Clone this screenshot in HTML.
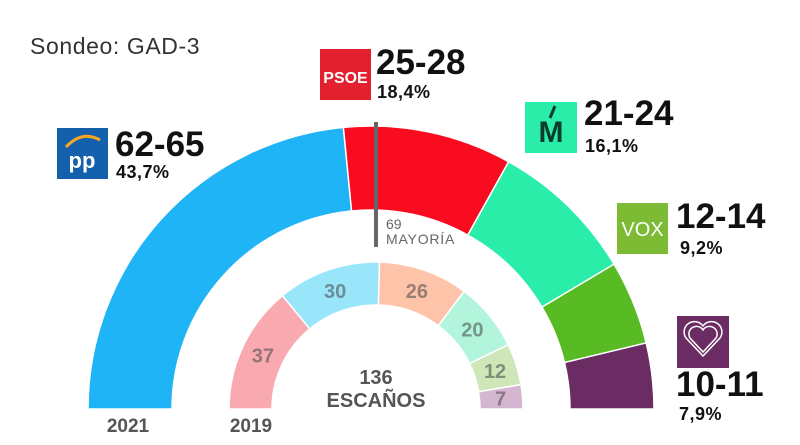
<!DOCTYPE html>
<html><head><meta charset="utf-8"><style>
html,body{margin:0;padding:0;background:#fff;width:800px;height:445px;overflow:hidden}
svg{display:block;font-family:"Liberation Sans",sans-serif}
</style></head><body>
<svg id="s" width="800" height="445" viewBox="0 0 800 445">
<text x="30" y="54" font-size="23" fill="#333" letter-spacing="0.6">Sondeo: GAD-3</text>
<g id="arcs"></g>
<line x1="376" y1="122" x2="376" y2="247" stroke="#666" stroke-width="4"/>
<text x="386" y="229" font-size="14" fill="#666">69</text>
<text x="386" y="244" font-size="14" fill="#666" letter-spacing="0.8">MAYORÍA</text>
<g font-weight="bold" fill="#555" text-anchor="middle">
<text x="128" y="432" font-size="19">2021</text>
<text x="251" y="432" font-size="19">2019</text>
<text x="376" y="384" font-size="20">136</text>
<text x="376" y="407" font-size="20">ESCAÑOS</text>
</g>
<g font-weight="bold" fill="rgba(70,70,70,0.55)" text-anchor="middle" font-size="20" id="ilab"></g>
<!-- logos -->
<rect x="57" y="128" width="51" height="51" fill="#1560ad"/>
<path d="M66 147 Q82 130 100 140" stroke="#f6a623" stroke-width="3" fill="none"/>
<text x="82" y="168" font-size="22" font-weight="bold" fill="#fff" text-anchor="middle">pp</text>
<rect x="320" y="49" width="51" height="51" fill="#e2202e"/>
<text x="345.5" y="83" font-size="16" font-weight="bold" fill="#fff" text-anchor="middle">PSOE</text>
<rect x="525" y="102" width="52" height="51" fill="#2bedaa"/>
<text x="551" y="142" font-size="30" font-weight="bold" fill="#0b3b2a" text-anchor="middle">M</text>
<path d="M555 106 L550 118" stroke="#0b3b2a" stroke-width="3"/>
<rect x="617" y="203" width="51" height="51" fill="#7cbb33"/>
<text x="642.5" y="236" font-size="20" fill="#fff" text-anchor="middle">VOX</text>
<rect x="677" y="316" width="52" height="52" fill="#6b2b63"/>
<path d="M703 352 L690 338 A7 7 0 0 1 703 330 A7 7 0 0 1 716 338 Z" fill="none" stroke="#fff" stroke-width="1.5"/>
<path d="M703 356 L686 338 A10 10 0 0 1 703 326 A10 10 0 0 1 720 338 Z" fill="none" stroke="#fff" stroke-width="1.5"/>
<g font-weight="bold" fill="#111">
<text x="115" y="156" font-size="35">62-65</text>
<text x="116" y="178" font-size="18" letter-spacing="0.5">43,7%</text>
<text x="376" y="74" font-size="35">25-28</text>
<text x="377" y="98" font-size="18" letter-spacing="0.5">18,4%</text>
<text x="584" y="125" font-size="35">21-24</text>
<text x="585" y="152" font-size="18" letter-spacing="0.5">16,1%</text>
<text x="676" y="228" font-size="35">12-14</text>
<text x="680" y="254" font-size="18" letter-spacing="0.5">9,2%</text>
<text x="676" y="396" font-size="35">10-11</text>
<text x="679" y="420" font-size="18" letter-spacing="0.5">7,9%</text>
</g>
</svg>
<script>
function pt(cx,cy,r,a){a=a*Math.PI/180;return [cx-r*Math.cos(a),cy-r*Math.sin(a)];}
function arc(cx,cy,R,r,a0,a1,c){
 var p1=pt(cx,cy,R,a0),p2=pt(cx,cy,R,a1),p3=pt(cx,cy,r,a1),p4=pt(cx,cy,r,a0);
 return '<path d="M'+p1+' A'+R+' '+R+' 0 0 1 '+p2+' L'+p3+' A'+r+' '+r+' 0 0 0 '+p4+' Z" fill="'+c+'" stroke="#fff" stroke-width="1.5"/>';
}
var h='';
var o=[[0,84.4,'#1fb4f5'],[84.4,119.1,'#f90c1f'],[119.1,149.2,'#2bedaa'],[149.2,166.5,'#58bb23'],[166.5,180,'#6b2b63']];
o.forEach(function(s){h+=arc(371,409,283,199,s[0],s[1],s[2]);});
var v=[37,30,26,20,12,7],cols=['#f9aab0','#99e6fb','#fdc4aa','#b2f5dc','#cee6b8','#d4b6d0'],c=0,lab='';
v.forEach(function(n,i){var a0=c/132*180;c+=n;var a1=c/132*180;h+=arc(376,409,147,104,a0,a1,cols[i]);
 var m=pt(376,409,125,(a0+a1)/2);lab+='<text x="'+m[0]+'" y="'+(m[1]+7)+'">'+n+'</text>';});
document.getElementById('arcs').innerHTML=h;
document.getElementById('ilab').innerHTML=lab;
</script>
</body></html>
